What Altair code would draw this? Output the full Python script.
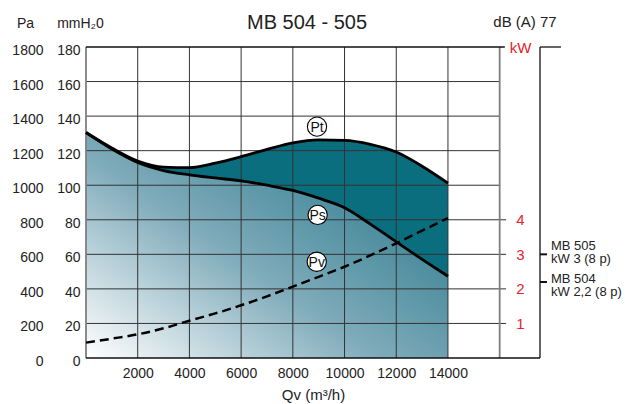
import altair as alt
import pandas as pd

# ---- data ----
qv = [0, 1000, 2000, 3000, 4000, 5000, 6000, 7000, 8000, 9000, 10000, 11000, 12000, 13000, 14000]
pt = [1305, 1215, 1140, 1105, 1102, 1128, 1165, 1207, 1245, 1262, 1260, 1237, 1192, 1110, 1012]
ps = [1305, 1210, 1132, 1085, 1060, 1042, 1025, 1000, 970, 925, 870, 775, 672, 571, 473]
pv = [89, 112, 137, 172, 216, 258, 305, 357, 413, 470, 528, 594, 664, 737, 810]

x_ticks = [2000, 4000, 6000, 8000, 10000, 12000, 14000]
pa_ticks = [0, 200, 400, 600, 800, 1000, 1200, 1400, 1600, 1800]
kw_ticks = [1, 2, 3, 4]
h_grid = [200, 400, 600, 800, 1000, 1200, 1400, 1600]

lab_names = ["Pt", "Ps", "Pv"]
lab_qv = [8935, 8960, 8925]
lab_pa = [1339, 828, 557]

motor_line1 = ["MB 505", "MB 504"]
motor_line2 = ["kW 3 (8 p)", "kW 2,2 (8 p)"]
motor_kw = [3.0, 2.2]

title_text = "MB 504 - 505"
db_label = "dB (A) 77"

X_MAX = 17560      # right frame line
X_KW = 16000       # grey kW scale line
X_KW_TICK = 16250
X_TOP_GAP = 16200
X_TOP_END = 18370
PA_PER_KW = 200

RED = "#e3242b"
TEAL = "#0a6e7f"
FONT = "Liberation Sans"

df = pd.DataFrame({"qv": qv, "pt": pt, "ps": ps, "pv": pv})

xs = alt.Scale(domain=[0, X_MAX], nice=False, zero=False)
ys = alt.Scale(domain=[0, 1800], nice=False, zero=False)

x_axis = alt.Axis(values=x_ticks, title="Qv (m³/h)", grid=False, ticks=False, domain=False,
                  format="d",
                  labelPadding=8, labelFontSize=14, labelColor="#222", labelFont=FONT,
                  titleFontSize=15, titleFontWeight="normal", titleColor="#222", titlePadding=7,
                  titleFont=FONT)


def X(field):
    return alt.X(field, type="quantitative", scale=xs, axis=x_axis)


def Y(field, axis=None):
    return alt.Y(field, type="quantitative", scale=ys, axis=axis)


pa_axis = alt.Axis(orient="left", values=pa_ticks, ticks=False, domain=False, grid=False,
                   format="d",
                   labelPadding=43, labelFontSize=14, labelOffset=3.5, labelColor="#222",
                   title="Pa", titleAngle=0, titleX=-61, titleY=-24, titleAlign="center",
                   titleBaseline="middle", titleFontSize=14, titleFontWeight="normal", titleColor="#222")
mm_axis = alt.Axis(orient="left", values=pa_ticks, ticks=False, domain=False, grid=False,
                   labelPadding=6, labelFontSize=14, labelOffset=3.5, labelColor="#222",
                   labelExpr="datum.value / 10",
                   title="mmH₂0", titleAngle=0, titleX=-6, titleY=-24, titleAlign="center",
                   titleBaseline="middle", titleFontSize=14, titleFontWeight="normal", titleColor="#222")
kw_axis = alt.Axis(orient="right", values=[k * PA_PER_KW for k in kw_ticks], ticks=False, tickSize=0,
                   domain=False, grid=False, labelPadding=-20, labelAlign="center",
                   labelExpr="datum.value / 200", labelColor=RED, labelFontSize=15,
                   title="kW", titleAngle=0, titleX=-20, titleY=0, titleAlign="center",
                   titleBaseline="middle", titleFontSize=15, titleFontWeight="normal", titleColor=RED)

grad = alt.Gradient(
    gradient="linear",
    stops=[alt.GradientStop(color="#ffffff", offset=0),
           alt.GradientStop(color="#7fabba", offset=0.45),
           alt.GradientStop(color="#1d7285", offset=1)],
    x1=0, y1=1, x2=1, y2=0.1,
)

area_low = alt.Chart(df).mark_area(interpolate="monotone", color=grad).encode(
    x=X("qv"), y=Y("ps", pa_axis))
area_high = alt.Chart(df).mark_area(interpolate="monotone", color=TEAL).encode(
    x=X("qv"), y=Y("pt", mm_axis), y2="ps")

hg = pd.DataFrame({"y": h_grid})
hg["x0"] = 0
hg["x1"] = [X_KW_TICK if v in [k * PA_PER_KW for k in kw_ticks] else X_KW for v in h_grid]
h_rules = alt.Chart(hg).mark_rule(color="#333", strokeWidth=1).encode(
    y=Y("y", kw_axis), x=X("x0"), x2="x1")

vg = pd.DataFrame({"x": x_ticks, "y0": 0, "y1": 1800})
v_rules = alt.Chart(vg).mark_rule(color="#333", strokeWidth=1).encode(
    x=X("x"), y=Y("y0"), y2="y1")

frame_df = pd.DataFrame({
    "x": [0, 0, X_MAX, 0, X_MAX, X_KW],
    "x2": [0, X_MAX, X_MAX, X_TOP_GAP, X_TOP_END, X_KW],
    "y": [0, 0, 0, 1800, 1800, 0],
    "y2": [1800, 0, 1800, 1800, 1800, 1800],
    "k": ["l", "b", "r", "t1", "t2", "kw"],
})
frame_black = alt.Chart(frame_df).transform_filter("datum.k != 'kw' && datum.k != 'l'").mark_rule(
    color="#111", strokeWidth=1.3).encode(x=X("x"), x2="x2", y=Y("y"), y2="y2")
frame_grey = alt.Chart(frame_df).transform_filter("datum.k == 'kw' || datum.k == 'l'").mark_rule(
    color="#7f7f7f", strokeWidth=1.8).encode(x=X("x"), x2="x2", y=Y("y"), y2="y2")

long = df.melt(id_vars="qv", value_vars=["pt", "ps"], var_name="s", value_name="v")
solid_lines = alt.Chart(long).mark_line(interpolate="monotone", color="#000", strokeWidth=2.8).encode(
    x=X("qv"), y=Y("v"), detail="s:N")
pv_line = alt.Chart(df).mark_line(interpolate="monotone", color="#000", strokeWidth=2.5,
                                  strokeDash=[9, 5]).encode(x=X("qv"), y=Y("pv"))

lab_df = pd.DataFrame({"name": lab_names, "qv": lab_qv, "pa": lab_pa})
lab_circles = alt.Chart(lab_df).mark_circle(color="white", stroke="#000", strokeWidth=1.1,
                                            opacity=1, size=370).encode(x=X("qv"), y=Y("pa"))
lab_text = alt.Chart(lab_df).mark_text(fontSize=14, color="#111", baseline="middle", dy=1).encode(
    x=X("qv"), y=Y("pa"), text="name:N")

mot_df = pd.DataFrame({"l1": motor_line1, "l2": motor_line2, "kw": motor_kw})
mot_df["pa"] = mot_df["kw"] * PA_PER_KW
mot_df["x2"] = X_MAX + 270
mot_df["x"] = X_MAX
mot_ticks = alt.Chart(mot_df).mark_rule(color="#111", strokeWidth=2).encode(
    x=X("x"), x2="x2", y=Y("pa"))


def mot_text(filt, field, dy):
    return alt.Chart(mot_df).transform_filter(filt).mark_text(
        align="left", baseline="middle", fontSize=13, color="#222", dx=11, dy=dy
    ).encode(x=X("x"), y=Y("pa"), text=f"{field}:N")


mot_texts = [
    mot_text("datum.kw == 3", "l1", -8),
    mot_text("datum.kw == 3", "l2", 5),
    mot_text("datum.kw < 3", "l1", -2.5),
    mot_text("datum.kw < 3", "l2", 10.5),
]

db_df = pd.DataFrame({"t": [db_label], "x": [16980], "y": [1800]})
db_text = alt.Chart(db_df).mark_text(fontSize=15, color="#222", baseline="middle", dy=-25).encode(
    x=X("x"), y=Y("y"), text="t:N")

title_df = pd.DataFrame({"t": [title_text], "x": [8550], "y": [1800]})
title_mark = alt.Chart(title_df).mark_text(fontSize=20, color="#222", baseline="middle", dy=-24).encode(
    x=X("x"), y=Y("y"), text="t:N")

chart = alt.layer(
    area_low, area_high, h_rules, v_rules, frame_grey, frame_black,
    solid_lines, pv_line, lab_circles, lab_text, mot_ticks, *mot_texts, db_text, title_mark,
).resolve_axis(y="independent").properties(
    width=454, height=311,
    autosize=alt.AutoSizeParams(type="none"),
    padding={"left": 86, "top": 47, "right": 85, "bottom": 46},
).configure(font=FONT).configure_view(stroke=None).configure_axis(labelFont=FONT, titleFont=FONT)

chart.save("out.html", embed_options={"renderer": "svg", "actions": False})
